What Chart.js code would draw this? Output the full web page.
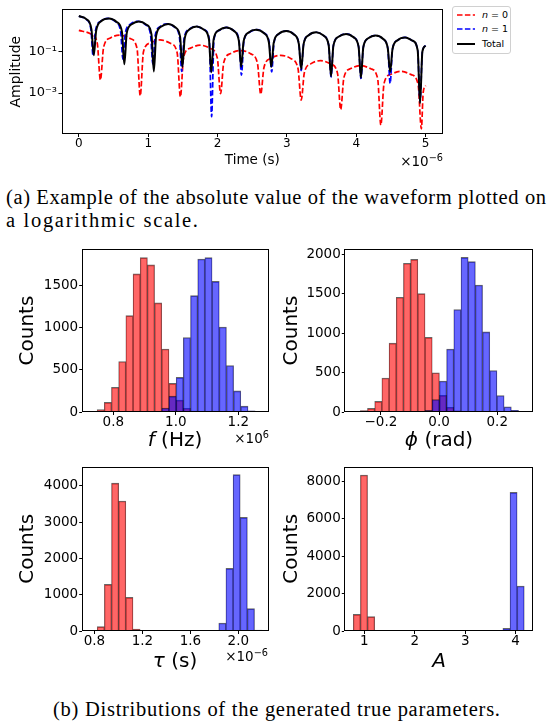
<!DOCTYPE html>
<html>
<head>
<meta charset="utf-8">
<script src="https://cdn.jsdelivr.net/npm/chart.js@4.4.1/dist/chart.umd.min.js"></script>
<style>
  html, body { margin: 0; padding: 0; background: #fff; }
  body { width: 554px; height: 724px; position: relative; overflow: hidden; font-family: "DejaVu Sans", sans-serif; color: #000; }
  canvas { position: absolute; }
  .lbl { position: absolute; white-space: nowrap; text-align: center; font-size: 20px; line-height: 24px; }
  .off { position: absolute; white-space: nowrap; text-align: right; font-size: 13.5px; line-height: 16px; }
  .off sup { font-size: 0.72em; vertical-align: 0.5em; line-height: 0; }
  .cap { position: absolute; white-space: nowrap; font-family: "Liberation Serif", "DejaVu Serif", serif; font-size: 20.5px; line-height: 23px; }
  #legend { position: absolute; left: 452px; top: 6px; width: 59px; height: 48px; box-sizing: border-box;
            border: 1px solid #d0d0d0; border-radius: 3px; background: #fff; font-size: 9.5px; }
  #legend .row { position: absolute; left: 3px; height: 12px; line-height: 12px; }
  #legend svg { position: absolute; left: 0; top: 0; }
  #legend span { position: absolute; left: 26px; top: 0; white-space: nowrap; }
</style>
</head>
<body>
<canvas id="wave" width="450" height="172" style="left:0;top:0"></canvas>
<div id="legend">
  <div class="row" style="top:2px"><svg width="20" height="12"><line x1="1" y1="6" x2="19" y2="6" stroke="#ff0000" stroke-width="1.7" stroke-dasharray="5.5 2.4"/></svg><span><i>n</i> = 0</span></div>
  <div class="row" style="top:16px"><svg width="20" height="12"><line x1="1" y1="6" x2="19" y2="6" stroke="#0000ff" stroke-width="1.7" stroke-dasharray="5.5 2.4"/></svg><span><i>n</i> = 1</span></div>
  <div class="row" style="top:31px"><svg width="20" height="12"><line x1="1" y1="6" x2="19" y2="6" stroke="#000" stroke-width="2"/></svg><span>Total</span></div>
</div>
<div class="off" style="right:111px;top:153px">×10<sup>−6</sup></div>

<div class="cap" data-w="540" style="left:6px;top:186px">(a) Example of the absolute value of the waveform plotted on</div>
<div class="cap" data-w="192" style="left:6px;top:209px">a logarithmic scale.</div>

<canvas id="hf" width="277" height="215" style="left:0;top:240px"></canvas>
<canvas id="hp" width="277" height="215" style="left:277px;top:240px"></canvas>
<canvas id="ht" width="277" height="220" style="left:0;top:455px"></canvas>
<canvas id="ha" width="277" height="220" style="left:277px;top:455px"></canvas>

<div class="lbl" style="left:75px;width:200px;top:427px"><i>f</i> (Hz)</div>
<div class="lbl" style="left:339px;width:200px;top:427px"><i>ϕ</i> (rad)</div>
<div class="lbl" style="left:75px;width:200px;top:648px"><i>τ</i> (s)</div>
<div class="lbl" style="left:339px;width:200px;top:648px"><i>A</i></div>
<div class="off" style="right:285px;top:430px">×10<sup>6</sup></div>
<div class="off" style="right:286px;top:648px">×10<sup>−6</sup></div>

<div class="cap" data-w="447" style="left:53px;top:698px">(b) Distributions of the generated true parameters.</div>

<script>
// waveform, time in units of 1e-6 s
const timeN0 = [0, 0.167, 0.265, 0.311, 0.357, 0.455, 0.595, 0.740, 0.839, 0.885,
  0.931, 1.030, 1.170, 1.319, 1.418, 1.464, 1.510, 1.609, 1.748, 1.898, 1.997, 2.043,
  2.089, 2.188, 2.325, 2.477, 2.576, 2.622, 2.669, 2.768, 2.910, 3.060, 3.159, 3.206,
  3.251, 3.348, 3.485, 3.633, 3.730, 3.775, 3.821, 3.920, 4.060, 4.209, 4.308, 4.354,
  4.400, 4.500, 4.640, 4.792, 4.891, 4.938, 4.965, 5.0];
const ampN0 = [1.03, 0.72, 0.26, 0.0043, 0.16, 0.45, 0.61, 0.42, 0.14, 0.00073,
  0.095, 0.26, 0.36, 0.25, 0.085, 0.00065, 0.053, 0.145, 0.20, 0.14, 0.047, 0.00093,
  0.029, 0.08, 0.111, 0.078, 0.026, 0.00087, 0.017, 0.047, 0.065, 0.045, 0.0155, 0.00046,
  0.0094, 0.026, 0.036, 0.025, 0.0086, 0.00016, 0.0055, 0.015, 0.021, 0.0147, 0.005, 0.000029,
  0.0029, 0.008, 0.011, 0.0077, 0.0026, 0.000019, 0.0011, 0.0023];

const timeN1 = [0, 0.103, 0.173, 0.206, 0.240, 0.314, 0.421, 0.529, 0.602, 0.636,
  0.670, 0.744, 0.851, 0.959, 1.033, 1.067, 1.100, 1.171, 1.275, 1.379, 1.450, 1.483,
  1.517, 1.591, 1.698, 1.806, 1.880, 1.914, 1.948, 2.022, 2.129, 2.236, 2.310, 2.344,
  2.379, 2.453, 2.562, 2.671, 2.745, 2.780, 2.814, 2.886, 2.993, 3.100, 3.172, 3.206,
  3.240, 3.314, 3.421, 3.528, 3.602, 3.636, 3.670, 3.744, 3.852, 3.959, 4.033, 4.067,
  4.101, 4.172, 4.278, 4.383, 4.454, 4.488, 4.522, 4.596, 4.703, 4.811, 4.885, 4.919,
  4.953, 5.0];
const ampN1 = [5.0, 3.6, 1.2, 0.061, 1.0, 2.85, 3.9, 2.7, 0.92, 0.043,
  0.76, 2.08, 2.85, 1.98, 0.67, 0.025, 0.57, 1.58, 2.15, 1.5, 0.51, 0.011,
  0.43, 1.18, 1.62, 1.12, 0.39, 0.000073, 0.37, 1.03, 1.43, 1.0, 0.34, 0.0073,
  0.30, 0.82, 1.12, 0.78, 0.27, 0.0104, 0.26, 0.71, 0.97, 0.67, 0.23, 0.012,
  0.22, 0.61, 0.84, 0.58, 0.2, 0.006, 0.19, 0.51, 0.71, 0.49, 0.17, 0.005,
  0.16, 0.43, 0.6, 0.41, 0.14, 0.0029, 0.13, 0.35, 0.48, 0.33, 0.115, 0.0004,
  0.1, 0.19];

const timeTotal = [0, 0.107, 0.181, 0.215, 0.250, 0.325, 0.435, 0.546, 0.621, 0.656,
  0.690, 0.762, 0.866, 0.975, 1.047, 1.081, 1.114, 1.184, 1.287, 1.390, 1.460, 1.493,
  1.526, 1.597, 1.699, 1.805, 1.876, 1.909, 1.943, 2.017, 2.124, 2.232, 2.306, 2.340,
  2.375, 2.449, 2.555, 2.666, 2.740, 2.775, 2.809, 2.883, 2.990, 3.098, 3.172, 3.206,
  3.240, 3.314, 3.421, 3.528, 3.602, 3.636, 3.670, 3.744, 3.852, 3.959, 4.033, 4.067,
  4.101, 4.172, 4.278, 4.383, 4.454, 4.488, 4.522, 4.596, 4.703, 4.811, 4.885, 4.919,
  4.953, 5.0];
const ampTotal = [5.1, 3.6, 1.2, 0.065, 1.0, 2.9, 3.85, 2.65, 0.9, 0.024,
  0.75, 2.05, 2.79, 1.95, 0.66, 0.011, 0.56, 1.55, 2.10, 1.46, 0.5, 0.018,
  0.42, 1.16, 1.58, 1.1, 0.38, 0.010, 0.38, 1.04, 1.43, 1.0, 0.34, 0.018,
  0.30, 0.82, 1.11, 0.77, 0.27, 0.018, 0.26, 0.71, 0.97, 0.67, 0.23, 0.014,
  0.22, 0.61, 0.84, 0.58, 0.2, 0.0065, 0.19, 0.51, 0.70, 0.49, 0.17, 0.0055,
  0.16, 0.43, 0.59, 0.41, 0.14, 0.0104, 0.13, 0.35, 0.475, 0.33, 0.115, 0.00032,
  0.1, 0.19];

const waveXTicks = [0, 1, 2, 3, 4, 5];
const waveYTicks = [1e-3, 1e-1];
const waveYLabels = ['10⁻³', '10⁻¹'];

// histograms: bin centres and counts, n = 0 (red) and n = 1 (blue)
const fBins = [0.7368, 0.7598, 0.7828, 0.8057, 0.8287, 0.8517, 0.8747, 0.8977, 0.9206, 0.9436,
  0.9666, 0.9896, 1.0126, 1.0355, 1.0585, 1.0815, 1.1045, 1.1275, 1.1504, 1.1734,
  1.1964, 1.2194, 1.2424, 1.2653];
const fCountsN0 = [5, 30, 114, 294, 600, 1144, 1641, 1833, 1747, 1297, 748, 340, 141, 45, 10, 2,
  0, 0, 0, 0, 0, 0, 0, 0];
const fCountsN1 = [0, 0, 0, 0, 0, 0, 0, 0, 0, 8, 47, 188, 411, 885, 1383, 1817, 1833, 1551, 1010,
  552, 250, 70, 15, 5];
const fTicks = [0.8, 1.0, 1.2];
const fCountTicks = [0, 500, 1000, 1500];

const phiBins = [-0.2833, -0.2586, -0.2339, -0.2091, -0.1844, -0.1597, -0.1349, -0.1102, -0.0855,
  -0.0607, -0.0360, -0.0113, 0.0135, 0.0382, 0.0629, 0.0877, 0.1124, 0.1371, 0.1619, 0.1866,
  0.2113, 0.2361, 0.2608, 0.2855];
const phiCountsN0 = [5, 17, 46, 134, 431, 874, 1456, 1887, 1937, 1502, 946, 498, 210, 60, 15, 3,
  0, 0, 0, 0, 0, 0, 0, 0];
const phiCountsN1 = [0, 0, 0, 0, 0, 0, 0, 0, 0, 5, 20, 159, 393, 799, 1301, 1962, 1908, 1611, 1017,
  527, 209, 67, 21, 5];
const phiTicks = [-0.2, 0.0, 0.2];
const phiCountTicks = [0, 500, 1000, 1500, 2000];

const tauBins = [0.7937, 0.8533, 0.9129, 0.9725, 1.0321, 1.0917, 1.1513, 1.2109, 1.2705, 1.3301,
  1.3897, 1.4493, 1.5089, 1.5685, 1.6281, 1.6877, 1.7473, 1.8069, 1.8665, 1.9261,
  1.9857, 2.0453, 2.1049, 2.1645];
const tauCountsN0 = [5, 119, 1284, 4073, 3578, 927, 55, 5, 0, 0, 0, 0, 0, 0, 0, 0,
  0, 0, 0, 0, 0, 0, 0, 0];
const tauCountsN1 = [0, 0, 0, 0, 0, 0, 0, 0, 0, 0, 0, 0, 0, 0, 0, 0, 0, 10, 220, 1725,
  4303, 3128, 615, 28];
const tauTicks = [0.8, 1.2, 1.6, 2.0];
const tauCountTicks = [0, 1000, 2000, 3000, 4000];

const aBins = [0.8525, 0.9937, 1.1349, 1.2761, 1.4173, 1.5585, 1.6997, 1.8409, 1.9821, 2.1233,
  2.2645, 2.4057, 2.5469, 2.6881, 2.8293, 2.9705, 3.1117, 3.2529, 3.3941, 3.5353,
  3.6765, 3.8177, 3.9589, 4.1001];
const aCountsN0 = [893, 8357, 768, 0, 0, 0, 0, 0, 0, 0, 0, 0, 0, 0, 0, 0,
  0, 0, 0, 0, 0, 0, 0, 0];
const aCountsN1 = [0, 0, 0, 0, 0, 0, 0, 0, 0, 0, 0, 0, 0, 0, 0, 0, 0, 0, 0, 0,
  0, 143, 7428, 2411];
const aTicks = [1, 2, 3, 4];
const aCountTicks = [0, 2000, 4000, 6000, 8000];

Chart.defaults.font.family = '"DejaVu Sans", sans-serif';
Chart.defaults.color = '#000';

const pts = (xs, ys) => xs.map((x, i) => ({ x, y: ys[i] }));
const minus = s => s.replace('-', '\u2212');

// stretch the serif captions to the widths they have in the figure
document.querySelectorAll('.cap[data-w]').forEach(el => {
  const n = el.textContent.length - 1;
  const natural = el.getBoundingClientRect().width;
  el.style.letterSpacing = ((+el.dataset.w - natural) / n) + 'px';
});

// full box round the plot area, like matplotlib spines
const frame = {
  id: 'frame',
  afterDatasetsDraw(chart) {
    const { ctx, chartArea: a } = chart;
    const l = Math.round(a.left) + 0.5, t = Math.round(a.top) + 0.5;
    const r = Math.round(a.right) - 0.5, b = Math.round(a.bottom) - 0.5;
    ctx.save();
    ctx.strokeStyle = '#000';
    ctx.lineWidth = 1;
    ctx.strokeRect(l, t, r - l, b - t);
    ctx.restore();
  }
};

const tickGrid = len => ({ display: true, drawOnChartArea: false, drawTicks: true, tickLength: len, color: '#000', lineWidth: 1, offset: false });

// top panel: |waveform| on log scale
new Chart(document.getElementById('wave'), {
  type: 'line',
  data: {
    datasets: [
      { label: 'n = 0', data: pts(timeN0, ampN0), borderColor: '#ff0000', borderWidth: 1.7, borderDash: [5.5, 2.4], order: 2 },
      { label: 'n = 1', data: pts(timeN1, ampN1), borderColor: '#0000ff', borderWidth: 1.7, borderDash: [5.5, 2.4], order: 1 },
      { label: 'Total', data: pts(timeTotal, ampTotal), borderColor: '#000000', borderWidth: 2, order: 0 }
    ]
  },
  options: {
    responsive: false, animation: false, events: [],
    layout: { padding: { top: 6, right: 7, left: 0, bottom: 0 } },
    elements: { point: { radius: 0 }, line: { cubicInterpolationMode: 'monotone', fill: false } },
    plugins: { legend: { display: false }, tooltip: { enabled: false } },
    scales: {
      x: {
        type: 'linear', min: -0.25, max: 5.25, offset: false,
        afterFit: s => { s.height = 38; },
        afterBuildTicks: s => { s.ticks = waveXTicks.map(v => ({ value: v })); },
        grid: tickGrid(3), border: { display: false },
        ticks: { font: { size: 12, lineHeight: 1 }, padding: 0.5, maxRotation: 0, autoSkip: false, callback: v => String(v) },
        title: { display: true, text: 'Time (s)', font: { size: 13.5, lineHeight: 1 }, padding: { top: 0, bottom: 4.5 } }
      },
      y: {
        type: 'logarithmic', min: 1.07e-5, max: 10.7,
        afterFit: s => { s.width = 61.5; },
        afterBuildTicks: s => { s.ticks = waveYTicks.map(v => ({ value: v })); },
        grid: tickGrid(3), border: { display: false },
        ticks: { font: { size: 13 }, padding: 1.5, autoSkip: false, callback: v => waveYLabels[waveYTicks.indexOf(v)] },
        title: { display: true, text: 'Amplitude', font: { size: 14, lineHeight: 1 }, padding: { top: 9, bottom: 0 } }
      }
    }
  },
  plugins: [frame]
});

// one histogram panel, both parameter sets on a shared bin grid
function histogram(id, bins, countsN0, countsN1, cfg) {
  const edge = { top: 1, left: 0.6, right: 0.6, bottom: 0 };
  new Chart(document.getElementById(id), {
    type: 'bar',
    data: {
      datasets: [
        { data: pts(bins, countsN0), backgroundColor: 'rgba(255,0,0,0.6)', borderColor: 'rgba(0,0,0,0.6)', borderWidth: edge, borderSkipped: false, order: 1 },
        { data: pts(bins, countsN1), backgroundColor: 'rgba(0,0,255,0.6)', borderColor: 'rgba(0,0,0,0.6)', borderWidth: edge, borderSkipped: false, order: 0 }
      ]
    },
    options: {
      responsive: false, animation: false, events: [],
      layout: { padding: { top: cfg.padTop, right: cfg.padRight, left: 0, bottom: 0 } },
      datasets: { bar: { barPercentage: 1, categoryPercentage: 1, grouped: false } },
      plugins: { legend: { display: false }, tooltip: { enabled: false } },
      scales: {
        x: {
          type: 'linear', min: cfg.xMin, max: cfg.xMax, offset: false,
          afterFit: s => { s.height = cfg.xHeight; },
          afterBuildTicks: s => { s.ticks = cfg.xTicks.map(v => ({ value: v })); },
          grid: tickGrid(3), border: { display: false },
          ticks: { font: { size: 13.5, lineHeight: 1 }, padding: 0.5, maxRotation: 0, autoSkip: false, callback: cfg.xFmt }
        },
        y: {
          type: 'linear', min: 0, max: cfg.yMax,
          afterFit: s => { s.width = cfg.yWidth; },
          afterBuildTicks: s => { s.ticks = cfg.yTicks.map(v => ({ value: v })); },
          grid: tickGrid(2.5), border: { display: false },
          ticks: { font: { size: 13.5 }, padding: 1, autoSkip: false, callback: v => String(v) },
          title: { display: true, text: 'Counts', font: { size: 20, lineHeight: 1 }, padding: { top: cfg.titlePad, bottom: 0 } }
        }
      }
    },
    plugins: [frame]
  });
}

const oneDec = v => minus(v.toFixed(1));

histogram('hf', fBins, fCountsN0, fCountsN1, {
  xMin: 0.699, xMax: 1.299, xTicks: fTicks, xFmt: oneDec, yMax: 1935, yTicks: fCountTicks,
  padTop: 7.3, padRight: 7.7, yWidth: 81.7, xHeight: 43, titlePad: 18
});
histogram('hp', phiBins, phiCountsN0, phiCountsN1, {
  xMin: -0.326, xMax: 0.324, xTicks: phiTicks, xFmt: oneDec, yMax: 2067, yTicks: phiCountTicks,
  padTop: 7.3, padRight: 20.7, yWidth: 67.3, xHeight: 43, titlePad: 4.7
});
histogram('ht', tauBins, tauCountsN0, tauCountsN1, {
  xMin: 0.694, xMax: 2.258, xTicks: tauTicks, xFmt: oneDec, yMax: 4523, yTicks: tauCountTicks,
  padTop: 11.7, padRight: 7.7, yWidth: 81.7, xHeight: 44, titlePad: 18
});
histogram('ha', aBins, aCountsN0, aCountsN1, {
  xMin: 0.6035, xMax: 4.35, xTicks: aTicks, xFmt: v => String(v), yMax: 8800, yTicks: aCountTicks,
  padTop: 11.7, padRight: 20.7, yWidth: 67.3, xHeight: 44, titlePad: 4.7
});
</script>
</body>
</html>
